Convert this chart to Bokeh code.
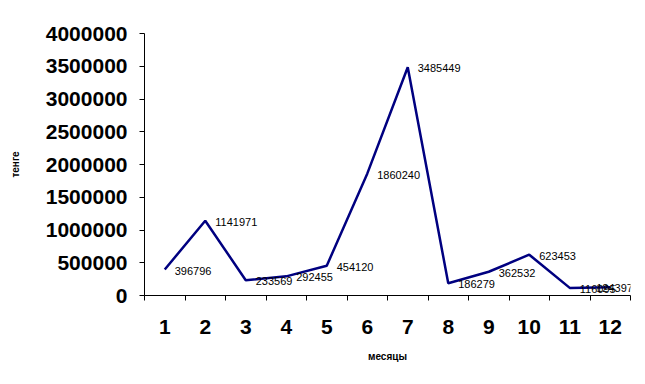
from bokeh.plotting import figure
from bokeh.models import FixedTicker, ColumnDataSource, Range1d, LabelSet, Label
from bokeh.core.properties import value
from bokeh.embed import file_html
from bokeh.resources import INLINE

months = [1, 2, 3, 4, 5, 6, 7, 8, 9, 10, 11, 12]
values = [396796, 1141971, 233569, 292455, 454120, 1860240, 3485449,
          186279, 362532, 623453, 116095, 124397]
labels = [str(v) for v in values]
y_ticks = [0, 500000, 1000000, 1500000, 2000000, 2500000, 3000000, 3500000, 4000000]

fnt = "Liberation Sans"

src = ColumnDataSource(dict(x=months, y=values, t=labels))
src_inner = ColumnDataSource(dict(x=months[:-1], y=values[:-1], t=labels[:-1]))

p = figure(width=640, height=370, output_backend="svg", toolbar_location=None,
           x_range=Range1d(0.5, 12.5), y_range=Range1d(0, 4000000),
           min_border_left=144, min_border_right=10, min_border_top=33,
           min_border_bottom=75)
p.outline_line_color = None
p.xgrid.visible = False
p.ygrid.visible = False
p.background_fill_color = "white"
p.border_fill_color = "white"

p.line("x", "y", source=src, line_color="#000080", line_width=2.5)
ls = LabelSet(x="x", y="y", text="t", source=src_inner, x_offset=10, y_offset=-1,
              text_baseline="middle", text_font=value(fnt),
              text_font_size=value("11px"), text_color="black")
p.add_layout(ls)
last = Label(x=months[-1], y=values[-1], text=labels[-1], x_offset=-14, y_offset=-1,
             text_baseline="middle", text_font=fnt, text_font_size="11px",
             text_color="black")
p.add_layout(last)

p.xaxis.ticker = FixedTicker(ticks=months, minor_ticks=[m - 0.5 for m in months] + [12.5])
p.xaxis.major_tick_line_color = None
p.xaxis.major_tick_out = 5
p.xaxis.major_tick_in = 0
p.xaxis.minor_tick_out = 5
p.xaxis.minor_tick_in = 0
p.xaxis.minor_tick_line_color = "black"
p.xaxis.axis_line_color = "black"
p.xaxis.major_label_text_font = fnt
p.xaxis.major_label_text_font_style = "bold"
p.xaxis.major_label_text_font_size = "21px"
p.xaxis.major_label_text_color = "black"
p.xaxis.major_label_standoff = 19
p.xaxis.axis_label = "месяцы"
p.xaxis.axis_label_text_font = fnt
p.xaxis.axis_label_text_font_style = "bold"
p.xaxis.axis_label_text_font_size = "10px"
p.xaxis.axis_label_text_color = "black"
p.xaxis.axis_label_standoff = 14

p.yaxis.ticker = FixedTicker(ticks=y_ticks)
p.yaxis.minor_tick_line_color = None
p.yaxis.major_tick_out = 5
p.yaxis.major_tick_in = 0
p.yaxis.major_tick_line_color = "black"
p.yaxis.axis_line_color = "black"
p.yaxis.formatter.use_scientific = False
p.yaxis.major_label_text_font = fnt
p.yaxis.major_label_text_font_style = "bold"
p.yaxis.major_label_text_font_size = "21px"
p.yaxis.major_label_text_color = "black"
p.yaxis.major_label_standoff = 12
p.yaxis.axis_label = "тенге"
p.yaxis.axis_label_text_font = fnt
p.yaxis.axis_label_text_font_style = "bold"
p.yaxis.axis_label_text_font_size = "10px"
p.yaxis.axis_label_text_color = "black"
p.yaxis.axis_label_standoff = 22

open("out.html", "w").write(file_html(p, INLINE))
